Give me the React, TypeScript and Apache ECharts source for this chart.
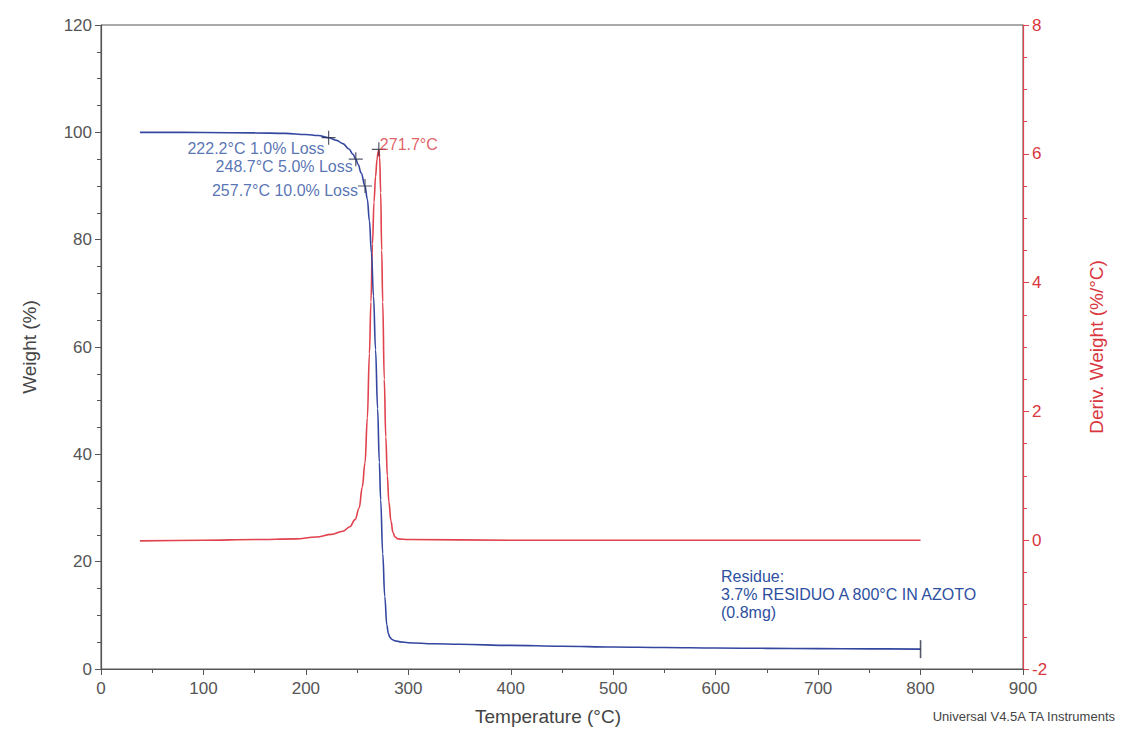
import React, { useEffect, useRef } from 'react';
import * as echarts from 'echarts';

// Weight (%) curve (TGA)
const tempW = [38, 60, 100, 150, 180, 200, 212, 222.2, 230, 236, 242, 246, 248.7, 251, 254, 257.7, 260, 262, 264, 266, 268, 270, 271.7, 273, 275, 277, 279, 280.5, 282, 284, 287, 292, 300, 325, 350, 400, 450, 500, 550, 600, 650, 700, 750, 800];
const weight = [100, 100, 99.97, 99.9, 99.8, 99.6, 99.4, 99.0, 98.5, 97.9, 96.9, 95.9, 95.0, 94.0, 92.4, 90.0, 87.5, 83.5, 77.5, 69.5, 59.5, 48.5, 38.5, 31.5, 21.5, 13.5, 8.2, 6.6, 5.9, 5.5, 5.25, 5.05, 4.9, 4.7, 4.6, 4.4, 4.25, 4.1, 4.0, 3.9, 3.85, 3.8, 3.75, 3.7];

// Derivative weight (%/°C) curve (DTG)
const tempD = [38, 100, 150, 190, 210, 225, 236, 243, 248, 252, 255, 257.7, 260, 262, 263.5, 265, 266.5, 268, 269.5, 270.5, 271.2, 272, 273, 274, 275, 276.5, 278, 279.5, 281, 283, 285, 287, 290, 300, 400, 500, 600, 700, 800];
const deriv = [-0.01, 0, 0.01, 0.02, 0.05, 0.09, 0.14, 0.21, 0.32, 0.5, 0.82, 1.2, 1.9, 2.9, 3.7, 4.6, 5.25, 5.65, 5.92, 6.03, 6.07, 5.95, 5.4, 4.5, 3.7, 2.5, 1.6, 1.0, 0.6, 0.3, 0.12, 0.05, 0.02, 0.01, 0, 0, 0, 0, 0];

// Annotations
const lossTemps = [222.2, 248.7, 257.7];
const lossWeights = [99.0, 95.0, 90.0];
const lossLabels = ['222.2°C 1.0% Loss', '248.7°C 5.0% Loss', '257.7°C 10.0% Loss'];
const peakTemp = 271.2;
const peakValue = 6.07;
const peakLabel = '271.7°C';
const residueTemp = 800;
const residueWeight = 3.7;
const residueText = 'Residue:\n3.7% RESIDUO A 800°C IN AZOTO\n(0.8mg)';
const creditText = 'Universal V4.5A TA Instruments';

const FONT = '"Liberation Sans", Arial, sans-serif';
const BLUE = '#3447a0';
const BLUE_TEXT = '#2d4f9f';
const RED = '#e0424e';
const RED_TEXT = '#d9363e';
const GREY = '#555';
const CROSS = 'path://M0,6.4H14V7.6H0Z M6.4,0H7.6V14H6.4Z';

const lossLabelPos = [[3, 18], [4, 14], [0, 11]];

export default function App() {
  const ref = useRef<HTMLDivElement>(null);
  useEffect(() => {
    if (!ref.current) return;
    const chart = echarts.init(ref.current, null, { renderer: 'svg' });
    const weightData = tempW.map((t, i) => [t, weight[i]]);
    const derivData = tempD.map((t, i) => [t, deriv[i]]);
    const lossData = lossTemps.map((t, i) => ({
      value: [t, lossWeights[i]],
      label: {
        show: true,
        formatter: lossLabels[i],
        position: lossLabelPos[i],
        align: 'right',
        verticalAlign: 'middle',
        color: BLUE_TEXT,
        fontSize: 16,
        fontFamily: FONT,
      },
    }));
    chart.setOption({
      animation: false,
      backgroundColor: '#fff',
      grid: { left: 101, right: 106, top: 25, bottom: 59, show: true, borderColor: GREY, borderWidth: 1 },
      xAxis: {
        type: 'value',
        min: 0,
        max: 900,
        interval: 100,
        name: 'Temperature (°C)',
        nameLocation: 'middle',
        nameGap: 38,
        nameTextStyle: { fontFamily: FONT, fontSize: 19, color: '#444', padding: [0, 28, 0, 0] },
        splitLine: { show: false },
        axisLine: { onZero: false, lineStyle: { color: GREY, width: 1.2 } },
        axisTick: { length: 6, lineStyle: { color: GREY } },
        minorTick: { show: true, splitNumber: 2, length: 4, lineStyle: { color: GREY } },
        axisLabel: { margin: 11, fontSize: 17, color: GREY, fontFamily: FONT },
      },
      yAxis: [
        {
          type: 'value',
          min: 0,
          max: 120,
          interval: 20,
          name: 'Weight (%)',
          nameLocation: 'middle',
          nameGap: 62,
          nameTextStyle: { fontFamily: FONT, fontSize: 19, color: '#444' },
          splitLine: { show: false },
          axisLine: { show: true, onZero: false, lineStyle: { color: GREY, width: 1.2 } },
          axisTick: { show: true, length: 6, lineStyle: { color: GREY } },
          minorTick: { show: true, splitNumber: 4, length: 4, lineStyle: { color: GREY } },
          axisLabel: { margin: 9, fontSize: 17, color: GREY, fontFamily: FONT },
        },
        {
          type: 'value',
          position: 'right',
          min: -2,
          max: 8,
          interval: 2,
          name: 'Deriv. Weight (%/°C)',
          nameLocation: 'middle',
          nameGap: 64,
          nameRotate: 90,
          nameTextStyle: { fontFamily: FONT, fontSize: 19, color: RED_TEXT },
          splitLine: { show: false },
          axisLine: { show: true, onZero: false, lineStyle: { color: RED, width: 1.2 } },
          axisTick: { show: true, length: 6, lineStyle: { color: RED } },
          minorTick: { show: true, splitNumber: 4, length: 4, lineStyle: { color: RED } },
          axisLabel: { margin: 9, fontSize: 17, color: RED_TEXT, fontFamily: FONT },
        },
      ],
      series: [
        {
          name: 'Weight',
          type: 'line',
          yAxisIndex: 0,
          data: weightData,
          showSymbol: false,
          smooth: 0.4,
          smoothMonotone: 'x',
          lineStyle: { color: BLUE, width: 1.6 },
          z: 3,
        },
        {
          name: 'Deriv. Weight',
          type: 'line',
          yAxisIndex: 1,
          data: derivData,
          showSymbol: false,
          smooth: 0.4,
          smoothMonotone: 'x',
          lineStyle: { color: RED, width: 1.6 },
          z: 2,
        },
        {
          name: 'Loss marks',
          type: 'scatter',
          yAxisIndex: 0,
          symbol: CROSS,
          symbolSize: 14,
          itemStyle: { color: '#2a2f45' },
          data: lossData,
          z: 5,
        },
        {
          name: 'Peak',
          type: 'scatter',
          yAxisIndex: 1,
          symbol: CROSS,
          symbolSize: 14,
          itemStyle: { color: '#2a2f45' },
          data: [
            {
              value: [peakTemp, peakValue],
              label: {
                show: true,
                formatter: peakLabel,
                position: [8, 2],
                align: 'left',
                verticalAlign: 'middle',
                color: RED_TEXT,
                fontSize: 16,
                fontFamily: FONT,
              },
            },
          ],
          z: 5,
        },
        {
          name: 'Residue mark',
          type: 'scatter',
          yAxisIndex: 0,
          symbol: 'rect',
          symbolSize: [1.6, 18],
          itemStyle: { color: '#2a2f45' },
          data: [[residueTemp, residueWeight]],
          z: 5,
        },
      ],
      graphic: [
        {
          type: 'text',
          x: 721,
          y: 567,
          style: {
            text: residueText,
            fill: BLUE_TEXT,
            font: '16px ' + FONT,
            lineHeight: 18,
          },
        },
        {
          type: 'text',
          x: 1115,
          y: 716,
          style: {
            text: creditText,
            fill: '#444',
            font: '13px ' + FONT,
            align: 'right',
            verticalAlign: 'middle',
          },
        },
      ],
    });
    return () => chart.dispose();
  }, []);
  return (
    <div
      ref={ref}
      style={{ position: 'fixed', left: 0, top: 0, width: 1129, height: 731, background: '#fff' }}
    />
  );
}
